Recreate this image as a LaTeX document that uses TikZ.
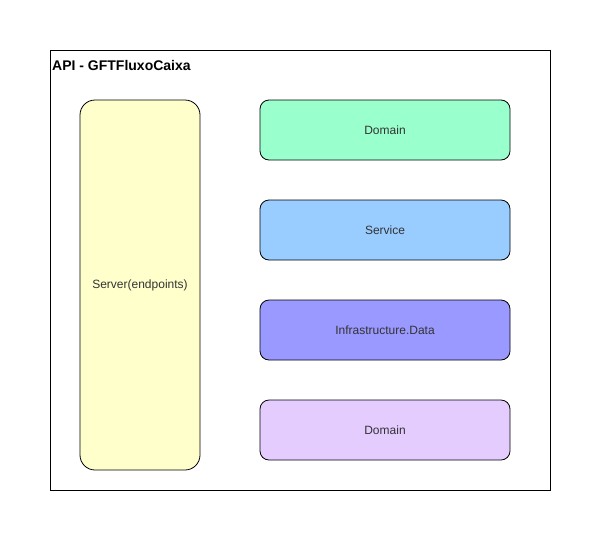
\documentclass[tikz,border=0pt]{standalone}
\usepackage{fontspec}
\setmainfont{Liberation Sans}
\usetikzlibrary{positioning,calc}
\definecolor{serverfill}{HTML}{FFFFCC}
\definecolor{domainfill}{HTML}{99FFCC}
\definecolor{servicefill}{HTML}{99CCFF}
\definecolor{infrafill}{HTML}{9999FF}
\definecolor{domaintwofill}{HTML}{E5CCFF}
\tikzset{
	layer/.style={draw,line width=0.8pt,rounded corners=9pt,minimum width=250pt,minimum height=60pt,
		font=\fontsize{12pt}{14pt}\selectfont,text=black!80,outer sep=0pt},
	api box/.style={draw,line width=0.8pt,minimum width=500pt,minimum height=440pt,outer sep=0pt},
	api name/.style={font=\bfseries\fontsize{14pt}{16pt}\selectfont,anchor=north west,inner sep=2pt}
}
\begin{document}
\begin{tikzpicture}[x=1pt,y=-1pt]
   \useasboundingbox (0,0) rectangle (601,541);
   \node[api box] (api) at (300,270) {};
   \node[api name] at ($(api.north west)+(0pt,-8pt)$) (title) {API - GFTFluxoCaixa};
   \node[layer,minimum width=120pt,minimum height=370pt,rounded corners=15pt,fill=serverfill] (server) at (140,285) {Server(endpoints)};
   \node[layer,fill=domainfill] (domain) at (385,130) {Domain};
   \node[layer,fill=servicefill,below=40pt of domain] (service) {Service};
   \node[layer,fill=infrafill,below=40pt of service] (infra) {Infrastructure.Data};
   \node[layer,fill=domaintwofill,below=40pt of infra] (domaintwo) {Domain};
\end{tikzpicture}
\end{document}
